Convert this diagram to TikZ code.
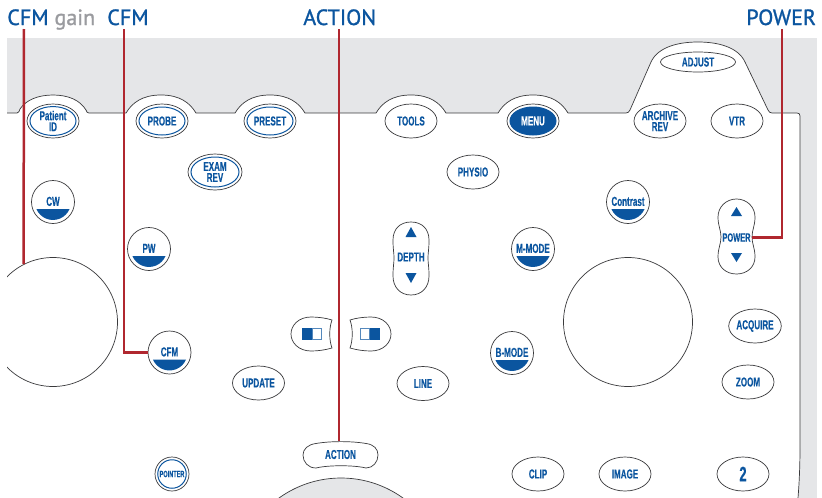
\documentclass[tikz,border=0pt]{standalone}
\usepackage{fontspec}
\usetikzlibrary{shapes.geometric}
\usetikzlibrary{calc}
\newfontfamily\keyfont[FakeStretch=0.62,FakeBold=0.25]{Liberation Sans Bold}
\newfontfamily\titlefont[FakeBold=1.2]{PT Sans}
\definecolor{keyblue}{HTML}{0B559F}
\definecolor{keyline}{HTML}{3A3A3C}
\definecolor{panelgrey}{HTML}{E5E6E8}
\definecolor{callred}{HTML}{B0272F}
\definecolor{gaingrey}{HTML}{9A9B9F}
\newcommand\bump[1]{-- (#1-35,113) .. controls (#1-29,103) and (#1-19,95) .. (#1,95) .. controls (#1+19,95) and (#1+29,103) .. (#1+35,113)}
\newcommand\paneledge{(7,113) -- (17,113) .. controls (19,113) and (19,111) .. (20,109) .. controls (26,100) and (38,95) .. (53,95) .. controls (68,95) and (80,100) .. (86,110) .. controls (87,112) and (87,113) .. (89,113)
\bump{161} \bump{270} \bump{411} \bump{533}
-- (626,113) .. controls (628,113) and (629,112) .. (630,110) -- (651,62) .. controls (658,47) and (678,42) .. (698,42) .. controls (718,42) and (738,47) .. (745,62) -- (768,110) .. controls (769,112) and (770,113) .. (772,113) -- (797,113) .. controls (799,113) and (800,114) .. (800,116) -- (800,445) .. controls (800,470) and (799,485) .. (798,498)}
\begin{document}
\begin{tikzpicture}[x=1pt,y=-1pt,line width=0.7pt,
keytext/.style={text=keyblue,align=center,inner sep=0pt,font=\keyfont\fontsize{13}{11}\selectfont},
keyoval/.style={keytext,ellipse,draw=keyline,fill=white,minimum width=52pt,minimum height=34pt},
keyring/.style={ellipse,draw=keyblue,line width=1pt,inner sep=0pt,minimum width=46pt,minimum height=28pt},
modekey/.style={keytext,circle,draw=keyline,fill=white,minimum size=43pt},
knob/.style={circle,draw=keyline,inner sep=0pt,minimum size=129pt},
title/.style={anchor=base west,inner sep=0pt,text=keyblue,font=\titlefont\fontsize{22}{22}\selectfont},
callout/.style={draw=callred,line width=2.5pt}]
\useasboundingbox (0,0) rectangle (822,498);
\fill[panelgrey] (7,38) rectangle (817,498);
\fill[white] \paneledge -- (7,498) -- cycle;
\draw[keyline] \paneledge;
% dials
\begin{scope}
\clip (7,38) rectangle (817,498);
\node (gainknob) at (53,322) [knob] {};
\node (mainknob) at (628,322) [knob] {};
\node (actionknob) at (341,584) [knob,fill=panelgrey,minimum size=212pt] {};
\end{scope}
% oval keys
\foreach \n/\x/\y/\t in {tools/411/121/TOOLS,archive/660/121/{ARCHIVE\\REV},vtr/737/121/VTR,physio/473/172/PHYSIO,update/258.5/383/UPDATE,line/423/383.5/LINE,acquire/755/326/ACQUIRE,zoom/748/382/ZOOM,clip/538/474/CLIP,image/625/474/IMAGE} {
\node (\n) at (\x,\y) [keyoval] {\t};
}
\node (two) at (743,474) [keyoval,font=\keyfont\fontsize{21}{21}\selectfont] {2};
\node (adjust) at (698,62) [keyoval,minimum width=75pt,minimum height=20pt] {ADJUST};
% keys with a blue ring
\foreach \n/\x/\y/\t in {patient/53/121/{Patient\\ID},probe/162/121/PROBE,preset/270/121/PRESET} {
\node (\n) at (\x,\y) [keyoval] {};
\node (\n ring) at (\x,\y) [keyring,keytext] {\t};
}
\node (exam) at (215,172) [keyoval,minimum width=54pt,minimum height=36pt] {};
\node (exam ring) at (215,172) [keyring,keytext,minimum width=48pt,minimum height=30pt] {EXAM\\REV};
\node (menu) at (533,121) [keyoval] {};
\node (menu ring) at (533,121) [keyring,keytext,fill=keyblue,text=white] {MENU};
\node (pointer) at (172,474) [keyoval,circle,minimum size=34pt] {};
\node (pointer ring) at (172,474) [keyring,keytext,circle,minimum size=28.5pt,font=\keyfont\fontsize{9}{9}\selectfont] {POINTER};
% mode keys
\foreach \n/\x/\y/\t in {cw/53/202/CW,pw/149/249/PW,cfm/169.5/352.5/CFM,mmode/533/249/M-MODE,bmode/512/353/B-MODE,contrast/628/202/Contrast} {
\node (\n) at (\x,\y) [modekey] {\raisebox{1.3pt}{\t}};
\fill[keyblue] (\x-16.6,\y+7) arc[start angle=203,end angle=337,radius=18pt] -- cycle;
}
% rockers
\draw[keyline,fill=white] (411,222) .. controls (422,222) and (429,229) .. (429,240) .. controls (429,250) and (428,252) .. (428,258) .. controls (428,264) and (429,266) .. (429,276) .. controls (429,287) and (422,295) .. (411,295) .. controls (400,295) and (393,287) .. (393,276) .. controls (393,266) and (394,264) .. (394,258) .. controls (394,252) and (393,250) .. (393,240) .. controls (393,229) and (400,222) .. (411,222) -- cycle;
\node (depth) at (411,257) [keytext] {DEPTH};
\fill[keyblue] (405.5,237) -- (416.5,237) -- (411,227) -- cycle;
\fill[keyblue] (405.5,273) -- (416.5,273) -- (411,283) -- cycle;
\draw[keyline,fill=white] (736.5,199) .. controls (747,199) and (755,207) .. (755,217) .. controls (755,226) and (752,230) .. (752,237) .. controls (752,244) and (755,248) .. (755,257) .. controls (755,267) and (747,274) .. (736.5,274) .. controls (726,274) and (718,267) .. (718,257) .. controls (718,248) and (721,244) .. (721,237) .. controls (721,230) and (718,226) .. (718,217) .. controls (718,207) and (726,199) .. (736.5,199) -- cycle;
\node (power) at (736.5,237.5) [keytext,minimum width=31pt,font=\keyfont\fontsize{12}{12}\selectfont] {POWER};
\fill[keyblue] (731,216) -- (742,216) -- (736.5,207) -- cycle;
\fill[keyblue] (731,253) -- (742,253) -- (736.5,262) -- cycle;
% image keys
\draw[keyline] (332,320) .. controls (329,328) and (329,340) .. (332,348) .. controls (325,350) and (318,351) .. (311,351) .. controls (299,351) and (291,343) .. (291,334) .. controls (291,325) and (299,317) .. (311,317) .. controls (318,317) and (326,318) .. (332,320) -- cycle;
\draw[keyline] (350,320) .. controls (353,328) and (353,340) .. (350,348) .. controls (357,350) and (364,351) .. (371,351) .. controls (383,351) and (391,343) .. (391,334) .. controls (391,325) and (383,317) .. (371,317) .. controls (364,317) and (356,318) .. (350,320) -- cycle;
\fill[keyblue] (302,328) rectangle (312.5,340);
\draw[keyblue!70,line width=0.6pt] (312.5,328.3) rectangle (321.7,339.7);
\fill[keyblue] (369.5,328) rectangle (380,340);
\draw[keyblue!70,line width=0.6pt] (360.3,328.3) rectangle (369.5,339.7);
% action key
\draw[keyline] (316,443.5) .. controls (330,441) and (352,441) .. (366,443.5) .. controls (374,444.5) and (378,449) .. (378,455) .. controls (378,462) and (373,468) .. (366,468) .. controls (354,465) and (328,465) .. (316,468) .. controls (308,468) and (303,462) .. (303,455) .. controls (303,449) and (308,444.5) .. (316,443.5) -- cycle;
\node (action) at (340.5,454.5) [keytext,minimum width=75pt,minimum height=26pt] {ACTION};
% titles
\node (gaintitle) at (7,25) [title] {CFM \textcolor{gaingrey}{gain}};
\node (cfmtitle) at (107,25) [title] {CFM};
\node (actiontitle) at (303,25) [title] {ACTION};
\node (powertitle) at (746,25) [title] {POWER};
\coordinate (gaintop) at (24,29);
\coordinate (cfmtop) at (124,29);
\coordinate (actiontop) at (339,29);
\coordinate (powertop) at (782,29);
\draw[callout] (gaintop) -- (gainknob.117);
\draw[callout] (cfmtop) |- (cfm);
\draw[callout] (actiontop) -- (actiontop |- action.north);
\draw[callout] (powertop) |- (power.east);
\end{tikzpicture}
\end{document}
